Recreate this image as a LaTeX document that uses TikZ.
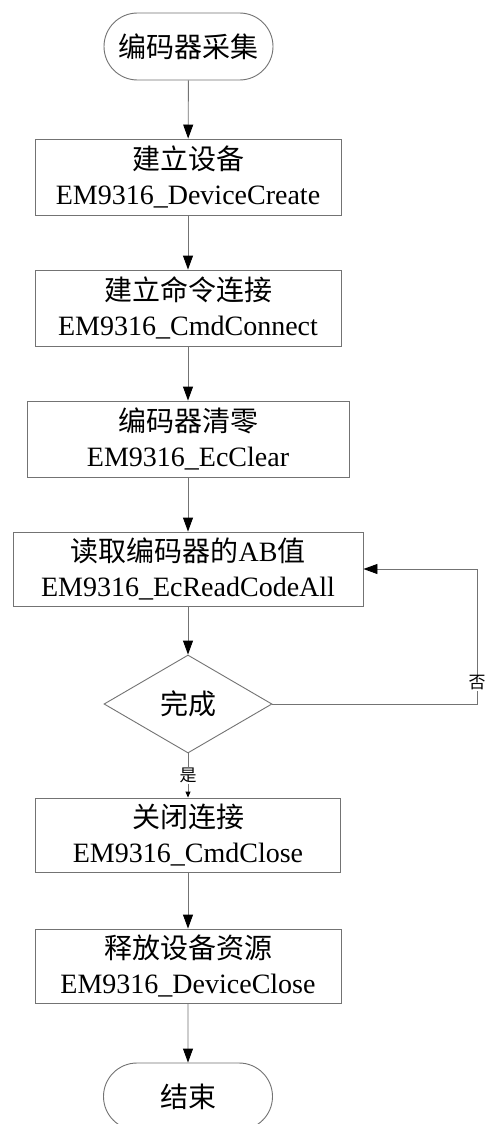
\documentclass[tikz,border=0pt]{standalone}
\usepackage{fontspec}
\setmainfont{Liberation Serif}
\newfontfamily\cjk{Noto Sans CJK SC}
\usetikzlibrary{shapes.misc,shapes.geometric,arrows.meta}
\tikzset{
  line/.style={draw=black!55, line width=0.9pt},
  arr/.style={line, -{Triangle[length=14pt,width=10pt,black]}},
  sarr/.style={line, -{Triangle[length=6pt,width=5pt,black]}},
  term/.style={line, rounded rectangle, minimum width=169pt, minimum height=67pt, inner sep=0pt, font=\fontsize{28}{35}\selectfont\cjk},
  proc/.style={line, rectangle, minimum height=76pt, inner sep=0pt, align=center, font=\fontsize{28}{35}\selectfont},
  dec/.style={line, diamond, aspect=1.714, minimum width=168pt, minimum height=98pt, inner sep=0pt, font=\fontsize{28}{35}\selectfont\cjk},
  lbl/.style={fill=white, inner sep=1pt, font=\fontsize{17}{19}\selectfont\cjk}
}
\begin{document}
\begin{tikzpicture}[x=1pt,y=-1pt]
\clip (0,0) rectangle (487,1124);
\fill[white] (0,0) rectangle (487,1124);
\node[term] (s) at (188.5,46.5) {编码器采集};
\node[proc, minimum width=306pt] (b1) at (188,177) {{\cjk 建立设备}\\EM9316\_DeviceCreate};
\node[proc, minimum width=306pt] (b2) at (188,308) {{\cjk 建立命令连接}\\EM9316\_CmdConnect};
\node[proc, minimum width=322pt] (b3) at (188,439) {{\cjk 编码器清零}\\EM9316\_EcClear};
\node[proc, minimum width=350pt, minimum height=74pt] (b4) at (188,569) {{\cjk 读取编码器的}AB{\cjk 值}\\EM9316\_EcReadCodeAll};
\node[dec] (d) at (188,704) {完成};
\node[proc, minimum width=305pt, minimum height=74pt] (b5) at (188,835) {{\cjk 关闭连接}\\EM9316\_CmdClose};
\node[proc, minimum width=306pt, minimum height=74pt] (b6) at (188,966) {{\cjk 释放设备资源}\\EM9316\_DeviceClose};
\node[term] (e) at (188,1096.5) {结束};
\coordinate (c1) at (477,704);
\coordinate (c2) at (477,569);
\draw[arr] (s) -- (b1);
\draw[arr] (b1) -- (b2);
\draw[arr] (b2) -- (b3);
\draw[arr] (b3) -- (b4);
\draw[arr] (b4) -- (d);
\draw[sarr] (d) -- node[lbl, midway] {是} (b5);
\draw[arr] (b5) -- (b6);
\draw[arr] (b6) -- (e);
\draw[arr] (d.east) -- (c1) -- (c2) -- (b4.east);
\node[lbl] (no) at (477,683) {否};
\end{tikzpicture}
\end{document}
